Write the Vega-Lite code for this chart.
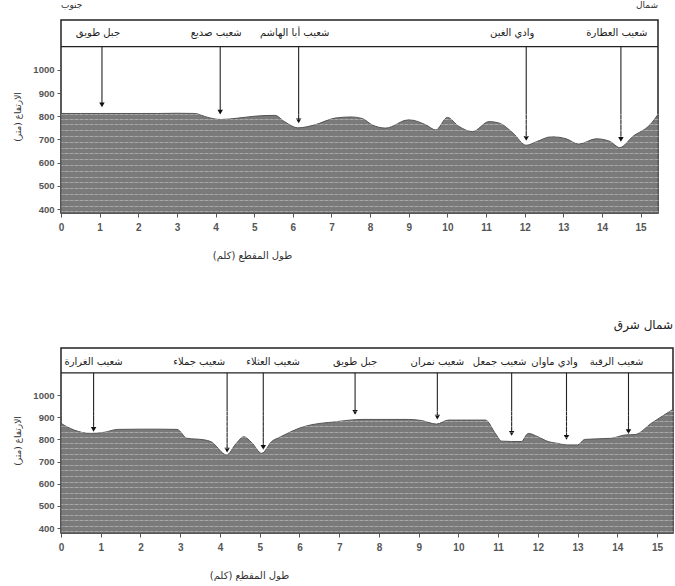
{
  "$schema": "https://vega.github.io/schema/vega-lite/v6.json",
  "background": "white",
  "padding": {"left": 13, "top": 0, "right": 0, "bottom": 0},
  "spacing": 57,
  "config": {
    "view": {"stroke": "#222", "strokeWidth": 1.5},
    "font": "DejaVu Sans",
    "axis": {"labelFont": "Liberation Sans", "labelFontWeight": "bold", "labelColor": "#555", "tickColor": "#555", "domain": false, "grid": false, "labelOverlap": false, "titleFont": "DejaVu Sans", "titleFontWeight": "normal", "titleColor": "#333"}
  },
  "datasets": {
    "top": [
      {"km": 0, "elev": 812}, {"km": 0.5, "elev": 812}, {"km": 1.0, "elev": 812}, {"km": 1.5, "elev": 812},
      {"km": 2.0, "elev": 812}, {"km": 2.5, "elev": 812}, {"km": 3.0, "elev": 813}, {"km": 3.46, "elev": 812},
      {"km": 3.8, "elev": 795}, {"km": 4.14, "elev": 786}, {"km": 4.58, "elev": 792}, {"km": 5.0, "elev": 800},
      {"km": 5.28, "elev": 803}, {"km": 5.53, "elev": 804}, {"km": 5.8, "elev": 775}, {"km": 6.13, "elev": 750},
      {"km": 6.57, "elev": 763}, {"km": 7.09, "elev": 792}, {"km": 7.5, "elev": 797}, {"km": 7.8, "elev": 790},
      {"km": 8.05, "elev": 763}, {"km": 8.4, "elev": 749}, {"km": 9.0, "elev": 785}, {"km": 9.44, "elev": 763},
      {"km": 9.7, "elev": 741}, {"km": 10.0, "elev": 795}, {"km": 10.3, "elev": 756}, {"km": 10.65, "elev": 734},
      {"km": 11.08, "elev": 777}, {"km": 11.35, "elev": 770}, {"km": 11.7, "elev": 727}, {"km": 12.04, "elev": 675},
      {"km": 12.3, "elev": 690}, {"km": 12.7, "elev": 712}, {"km": 13.07, "elev": 703}, {"km": 13.4, "elev": 680},
      {"km": 13.85, "elev": 703}, {"km": 14.2, "elev": 692}, {"km": 14.46, "elev": 665}, {"km": 14.8, "elev": 713},
      {"km": 15.24, "elev": 763}, {"km": 15.45, "elev": 808}
    ],
    "bottom": [
      {"km": 0, "elev": 872}, {"km": 0.33, "elev": 842}, {"km": 0.75, "elev": 827}, {"km": 1.09, "elev": 832},
      {"km": 1.42, "elev": 845}, {"km": 2.0, "elev": 846}, {"km": 2.5, "elev": 846}, {"km": 2.92, "elev": 845},
      {"km": 3.17, "elev": 805}, {"km": 3.6, "elev": 798}, {"km": 3.77, "elev": 790}, {"km": 4.17, "elev": 730},
      {"km": 4.4, "elev": 780}, {"km": 4.6, "elev": 812}, {"km": 4.8, "elev": 785}, {"km": 5.05, "elev": 737},
      {"km": 5.3, "elev": 790}, {"km": 5.53, "elev": 812}, {"km": 6.1, "elev": 857}, {"km": 6.93, "elev": 880},
      {"km": 7.6, "elev": 890}, {"km": 8.74, "elev": 890}, {"km": 9.07, "elev": 885}, {"km": 9.45, "elev": 869},
      {"km": 9.75, "elev": 887}, {"km": 10.68, "elev": 887}, {"km": 10.93, "elev": 827}, {"km": 11.09, "elev": 792},
      {"km": 11.58, "elev": 790}, {"km": 11.76, "elev": 827}, {"km": 12.0, "elev": 812}, {"km": 12.26, "elev": 790},
      {"km": 12.5, "elev": 782}, {"km": 12.75, "elev": 775}, {"km": 13.0, "elev": 775}, {"km": 13.18, "elev": 800},
      {"km": 13.84, "elev": 805}, {"km": 14.2, "elev": 820}, {"km": 14.45, "elev": 822}, {"km": 14.85, "elev": 872},
      {"km": 15.4, "elev": 935}
    ],
    "topMarks": [
      {"km": 1.06, "tip": 849, "name": "جبل طويق"},
      {"km": 4.12, "tip": 818, "name": "شعيب صديع"},
      {"km": 6.15, "tip": 780, "name": "شعيب أبا الهاشم"},
      {"km": 12.04, "tip": 705, "name": "وادي الغين"},
      {"km": 14.49, "tip": 700, "name": "شعيب العطارة"}
    ],
    "bottomMarks": [
      {"km": 0.82, "tip": 845, "name": "شعيب الغرارة"},
      {"km": 4.18, "tip": 752, "name": "شعيب جملاء"},
      {"km": 5.09, "tip": 764, "name": "شعيب العثلاء"},
      {"km": 7.4, "tip": 922, "name": "جبل طويق"},
      {"km": 9.47, "tip": 900, "name": "شعيب نمران"},
      {"km": 11.34, "tip": 827, "name": "شعيب جمعل"},
      {"km": 12.72, "tip": 809, "name": "وادي ماوان"},
      {"km": 14.28, "tip": 835, "name": "شعيب الرقبة"}
    ],
    "topLeft": [{"km": 0, "elev": 1278, "name": "جنوب"}],
    "topRight": [{"km": 15.45, "elev": 1278, "name": "شمال"}],
    "bottomRight": [{"km": 15.4, "elev": 1316, "name": "شمال شرق"}],
    "topHeader": [{"km": 0}, {"km": 15.45}],
    "bottomHeader": [{"km": 0}, {"km": 15.4}]
  },
  "vconcat": [
    {
      "width": 597,
      "height": 193,
      "resolve": {"axis": {"y": "independent"}},
      "encoding": {
        "x": {"field": "km", "type": "quantitative", "scale": {"domain": [0, 15.45], "nice": false, "zero": false},
              "axis": {"values": [0,1,2,3,4,5,6,7,8,9,10,11,12,13,14,15], "labelOverlap": false, "labelFlush": false, "tickSize": 4, "labelFontSize": 10, "labelPadding": 5,
                       "title": "طول المقطع (كلم)", "titleFontSize": 10, "titleX": 191, "titleY": 42, "titleAlign": "center", "titleBaseline": "middle"}}
      },
      "layer": [
        {
          "data": {"name": "top"},
          "mark": {"type": "area", "interpolate": "monotone", "fill": "#7a7a7a", "stroke": "#555", "strokeWidth": 1},
          "encoding": {
            "y": {"field": "elev", "type": "quantitative", "scale": {"domain": [383, 1215], "nice": false, "zero": false},
                  "axis": {"values": [400,500,600,700,800,900,1000], "format": "d", "tickSize": 4, "labelFontSize": 9.5, "labelPadding": 3,
                           "title": "الارتفاع (متر)", "titleFontSize": 9, "titlePadding": 10}},
            "y2": {"datum": 383}
          }
        },
        {
          "data": {"name": "top"},
          "mark": {"type": "point", "opacity": 0},
          "encoding": {
            "y": {"field": "elev", "type": "quantitative",
                  "axis": {"orient": "right", "values": [390,415,440,465,490,515,540,565,590,615,640,665,690,715,740,765,790,810],
                           "grid": true, "gridColor": "white", "gridOpacity": 0.35, "gridDash": [4, 1], "gridWidth": 1,
                           "labels": false, "ticks": false, "domain": false, "title": null, "zindex": 1}}
          }
        },
        {
          "data": {"name": "topHeader"},
          "mark": {"type": "line", "color": "#222", "strokeWidth": 1.2},
          "encoding": {"y": {"datum": 1100, "type": "quantitative", "axis": null}}
        },
        {
          "data": {"name": "topMarks"},
          "mark": {"type": "rule", "color": "#222", "strokeWidth": 1.1},
          "encoding": {
            "y": {"field": "tip", "type": "quantitative", "axis": null},
            "y2": {"datum": 1100}
          }
        },
        {
          "data": {"name": "topMarks"},
          "mark": {"type": "point", "shape": "triangle-down", "filled": true, "color": "#111", "size": 30, "opacity": 1},
          "encoding": {
            "y": {"field": "tip", "type": "quantitative", "axis": null}
          }
        },
        {
          "data": {"name": "topMarks"},
          "transform": [{"filter": {"not": {"field": "name", "oneOf": ["وادي الغين"]}}}],
          "mark": {"type": "text", "fontSize": 10, "color": "#222", "align": "center", "baseline": "middle", "dx": -4},
          "encoding": {
            "y": {"datum": 1157, "type": "quantitative", "axis": null},
            "text": {"field": "name"}
          }
        },
        {
          "data": {"name": "topMarks"},
          "transform": [{"filter": {"field": "name", "oneOf": ["وادي الغين"]}}],
          "mark": {"type": "text", "fontSize": 10, "color": "#222", "align": "center", "baseline": "middle", "dx": -14},
          "encoding": {
            "y": {"datum": 1157, "type": "quantitative", "axis": null},
            "text": {"field": "name"}
          }
        },
        {
          "data": {"name": "topLeft"},
          "mark": {"type": "text", "fontSize": 9, "color": "#333", "baseline": "middle", "align": "left"},
          "encoding": {
            "y": {"field": "elev", "type": "quantitative", "axis": null},
            "text": {"field": "name"}
          }
        },
        {
          "data": {"name": "topRight"},
          "mark": {"type": "text", "fontSize": 9, "color": "#333", "baseline": "middle", "align": "right"},
          "encoding": {
            "y": {"field": "elev", "type": "quantitative", "axis": null},
            "text": {"field": "name"}
          }
        }
      ]
    },
    {
      "width": 612,
      "height": 185,
      "resolve": {"axis": {"y": "independent"}},
      "encoding": {
        "x": {"field": "km", "type": "quantitative", "scale": {"domain": [0, 15.4], "nice": false, "zero": false},
              "axis": {"values": [0,1,2,3,4,5,6,7,8,9,10,11,12,13,14,15], "labelOverlap": false, "labelFlush": false, "tickSize": 4, "labelFontSize": 10, "labelPadding": 5,
                       "title": "طول المقطع (كلم)", "titleFontSize": 10, "titleX": 188, "titleY": 42, "titleAlign": "center", "titleBaseline": "middle"}}
      },
      "layer": [
        {
          "data": {"name": "bottom"},
          "mark": {"type": "area", "interpolate": "monotone", "fill": "#7a7a7a", "stroke": "#555", "strokeWidth": 1},
          "encoding": {
            "y": {"field": "elev", "type": "quantitative", "scale": {"domain": [378, 1212], "nice": false, "zero": false},
                  "axis": {"values": [400,500,600,700,800,900,1000], "format": "d", "tickSize": 4, "labelFontSize": 9.5, "labelPadding": 3,
                           "title": "الارتفاع (متر)", "titleFontSize": 9, "titlePadding": 10}},
            "y2": {"datum": 378}
          }
        },
        {
          "data": {"name": "bottom"},
          "mark": {"type": "point", "opacity": 0},
          "encoding": {
            "y": {"field": "elev", "type": "quantitative",
                  "axis": {"orient": "right", "values": [385,410,435,460,485,510,535,560,585,610,635,660,685,710,735,760,785,810,835,860,885,910,930],
                           "grid": true, "gridColor": "white", "gridOpacity": 0.35, "gridDash": [4, 1], "gridWidth": 1,
                           "labels": false, "ticks": false, "domain": false, "title": null, "zindex": 1}}
          }
        },
        {
          "data": {"name": "bottomHeader"},
          "mark": {"type": "line", "color": "#222", "strokeWidth": 1.2},
          "encoding": {"y": {"datum": 1100, "type": "quantitative", "axis": null}}
        },
        {
          "data": {"name": "bottomMarks"},
          "mark": {"type": "rule", "color": "#222", "strokeWidth": 1.1},
          "encoding": {
            "y": {"field": "tip", "type": "quantitative", "axis": null},
            "y2": {"datum": 1100}
          }
        },
        {
          "data": {"name": "bottomMarks"},
          "mark": {"type": "point", "shape": "triangle-down", "filled": true, "color": "#111", "size": 30, "opacity": 1},
          "encoding": {
            "y": {"field": "tip", "type": "quantitative", "axis": null}
          }
        },
        {
          "data": {"name": "bottomMarks"},
          "transform": [{"filter": {"field": "name", "oneOf": ["شعيب الغرارة", "جبل طويق", "شعيب نمران"]}}],
          "mark": {"type": "text", "fontSize": 10, "color": "#222", "align": "center", "baseline": "middle"},
          "encoding": {
            "y": {"datum": 1150, "type": "quantitative", "axis": null},
            "text": {"field": "name"}
          }
        },
        {
          "data": {"name": "bottomMarks"},
          "transform": [{"filter": {"field": "name", "oneOf": ["شعيب جمعل", "وادي ماوان", "شعيب الرقبة"]}}],
          "mark": {"type": "text", "fontSize": 10, "color": "#222", "align": "center", "baseline": "middle", "dx": -12},
          "encoding": {
            "y": {"datum": 1150, "type": "quantitative", "axis": null},
            "text": {"field": "name"}
          }
        },
        {
          "data": {"name": "bottomMarks"},
          "transform": [{"filter": {"field": "name", "oneOf": ["شعيب جملاء"]}}],
          "mark": {"type": "text", "fontSize": 10, "color": "#222", "align": "right", "baseline": "middle", "dx": -2},
          "encoding": {
            "y": {"datum": 1150, "type": "quantitative", "axis": null},
            "text": {"field": "name"}
          }
        },
        {
          "data": {"name": "bottomMarks"},
          "transform": [{"filter": {"field": "name", "oneOf": ["شعيب العثلاء"]}}],
          "mark": {"type": "text", "fontSize": 10, "color": "#222", "align": "left", "baseline": "middle", "dx": -17},
          "encoding": {
            "y": {"datum": 1150, "type": "quantitative", "axis": null},
            "text": {"field": "name"}
          }
        },
        {
          "data": {"name": "bottomRight"},
          "mark": {"type": "text", "fontSize": 12, "color": "#222", "baseline": "middle", "align": "right"},
          "encoding": {
            "y": {"field": "elev", "type": "quantitative", "axis": null},
            "text": {"field": "name"}
          }
        }
      ]
    }
  ]
}
